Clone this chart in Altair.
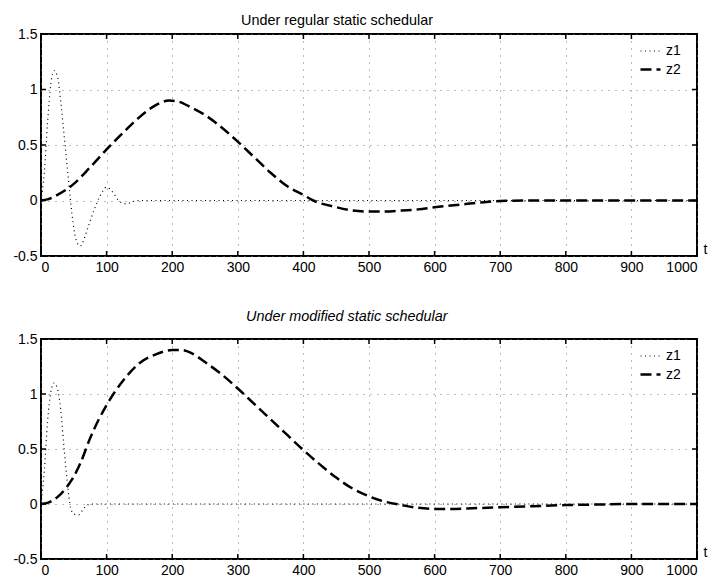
import altair as alt
import pandas as pd

# ---- data ----
top_t_z1 = [0, 5, 10, 15, 20, 25, 30, 35, 40, 45, 50, 55, 60, 65, 70, 80, 90, 100, 110, 120, 130, 140, 150, 200, 300, 400, 500, 600, 700, 800, 900, 1000]
top_z1 = [0, 0.25, 0.7, 1.05, 1.17, 1.12, 0.9, 0.6, 0.3, 0.0, -0.25, -0.38, -0.41, -0.36, -0.27, -0.1, 0.04, 0.12, 0.07, -0.01, -0.03, -0.01, 0, 0, 0, 0, 0, 0, 0, 0, 0, 0]

top_t_z2 = [0, 10, 25, 50, 75, 100, 125, 150, 175, 195, 210, 225, 250, 275, 300, 325, 350, 375, 400, 415, 450, 475, 500, 525, 550, 575, 600, 625, 650, 675, 700, 750, 800, 900, 1000]
top_z2 = [0, 0.01, 0.05, 0.15, 0.3, 0.46, 0.61, 0.75, 0.86, 0.9, 0.89, 0.85, 0.77, 0.66, 0.53, 0.39, 0.25, 0.13, 0.05, 0.0, -0.06, -0.09, -0.1, -0.1, -0.09, -0.08, -0.06, -0.045, -0.03, -0.015, -0.005, 0, 0, 0, 0]

bot_t_z1 = [0, 5, 10, 15, 20, 25, 30, 35, 40, 45, 50, 57, 63, 70, 80, 100, 200, 300, 400, 500, 600, 700, 800, 900, 1000]
bot_z1 = [0, 0.3, 0.75, 1.02, 1.1, 1.05, 0.86, 0.52, 0.2, -0.03, -0.09, -0.1, -0.06, -0.01, 0, 0, 0, 0, 0, 0, 0, 0, 0, 0, 0]

bot_t_z2 = [0, 10, 20, 30, 40, 50, 60, 75, 100, 125, 150, 175, 200, 215, 230, 250, 275, 300, 325, 350, 375, 400, 425, 450, 475, 500, 525, 550, 575, 600, 625, 650, 700, 750, 800, 850, 900, 1000]
bot_z2 = [0, 0.01, 0.04, 0.09, 0.16, 0.25, 0.37, 0.6, 0.9, 1.12, 1.28, 1.36, 1.4, 1.4, 1.37, 1.29, 1.18, 1.05, 0.91, 0.77, 0.63, 0.49, 0.36, 0.24, 0.14, 0.07, 0.02, -0.01, -0.035, -0.045, -0.045, -0.04, -0.03, -0.02, -0.01, -0.005, 0, 0]

x_ticks = [0, 100, 200, 300, 400, 500, 600, 700, 800, 900, 1000]
y_ticks = [-0.5, 0, 0.5, 1, 1.5]
series_names = ["z1", "z2"]
titles = ["Under regular static schedular", "Under modified static schedular"]

W = 656
FONT = "Liberation Sans"


def panel(t1, z1, t2, z2, title, italic, H, title_dx, title_offset):
    df = pd.DataFrame({
        "t": t1 + t2,
        "z": z1 + z2,
        "series": ["z1"] * len(t1) + ["z2"] * len(t2),
    })
    xdf = pd.DataFrame({"t": x_ticks})
    ydf = pd.DataFrame({"z": y_ticks})

    xaxis = alt.Axis(values=x_ticks, title="t", titleX=W + 6, titleY=0,
                     titleAlign="left", titleBaseline="bottom",
                     labelExpr="datum.value + ''")
    yaxis = alt.Axis(values=y_ticks, title=None, labelExpr="datum.value + ''")
    X = alt.X("t:Q", scale=alt.Scale(domain=[0, 1000], nice=False, zero=False), axis=xaxis)
    Y = alt.Y("z:Q", scale=alt.Scale(domain=[-0.5, 1.5], nice=False, zero=False), axis=yaxis)

    lines = alt.Chart(df).mark_line(color="black", interpolate="monotone").encode(
        x=X, y=Y,
        strokeDash=alt.StrokeDash(
            "series:N",
            scale=alt.Scale(domain=series_names, range=[[1, 3.5], [11, 5]]),
            legend=alt.Legend(title=None, orient="none", legendX=W - 58, legendY=6,
                              symbolType="stroke", symbolSize=400, symbolStrokeWidth=1.8,
                              symbolStrokeColor="black", labelFontSize=14, labelFont=FONT,
                              labelColor="black", rowPadding=0, labelOffset=4, padding=0),
        ),
        strokeWidth=alt.StrokeWidth(
            "series:N",
            scale=alt.Scale(domain=series_names, range=[1.2, 2.5]),
            legend=None,
        ),
    )

    tick_top = alt.Chart(xdf).mark_rule(color="black", strokeWidth=1.5).encode(
        x=X, y=alt.value(0), y2=alt.value(5))
    tick_bot = alt.Chart(xdf).mark_rule(color="black", strokeWidth=1.5).encode(
        x=X, y=alt.value(H - 5), y2=alt.value(H))
    tick_left = alt.Chart(ydf).mark_rule(color="black", strokeWidth=1.5).encode(
        y=Y, x=alt.value(0), x2=alt.value(5))
    tick_right = alt.Chart(ydf).mark_rule(color="black", strokeWidth=1.5).encode(
        y=Y, x=alt.value(W - 5), x2=alt.value(W))

    return alt.layer(lines, tick_top, tick_bot, tick_left, tick_right).properties(
        width=W, height=H,
        title=alt.Title(title, anchor="start", frame="group", dx=title_dx, offset=title_offset,
                        fontSize=14.4, fontWeight="normal", font=FONT,
                        fontStyle="italic" if italic else "normal", color="black"),
    )


top = panel(top_t_z1, top_z1, top_t_z2, top_z2, titles[0], False, 222, 200, -1)
bot = panel(bot_t_z1, bot_z1, bot_t_z2, bot_z2, titles[1], True, 220, 205, 8)

chart = alt.vconcat(top, bot, spacing=32).resolve_scale(
    strokeDash="independent", strokeWidth="independent"
).resolve_legend(strokeDash="independent").properties(
    padding={"left": 11, "top": 11, "right": 5, "bottom": 5},
    background="white",
).configure_view(
    stroke="black", strokeWidth=2
).configure_axis(
    domain=False, ticks=False, grid=True, gridColor="#777", gridDash=[1, 6],
    gridWidth=1, labelFont=FONT, labelFontSize=14, labelColor="black",
    labelPadding=4, titleFont=FONT, titleFontSize=14, titleFontWeight="normal",
    titleColor="black",
)

chart.save("out.html", embed_options={"renderer": "svg", "actions": False})
